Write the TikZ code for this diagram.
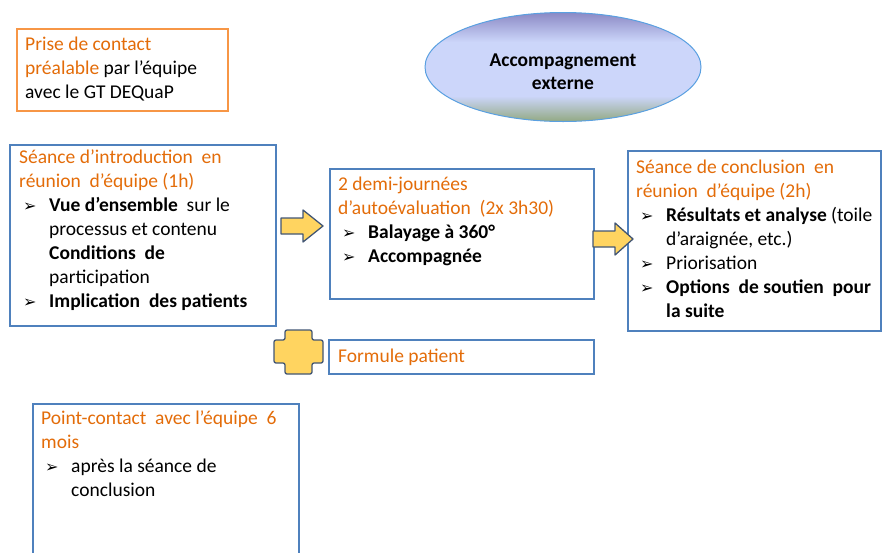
\documentclass[tikz,border=0pt]{standalone}
\usepackage{fontspec}
\setmainfont{Carlito}
\newfontfamily\symbolFont{DejaVu Sans}
\usetikzlibrary{positioning,shapes.geometric}
\definecolor{boxBlue}{RGB}{79,129,189}
\definecolor{boxOrange}{RGB}{247,150,70}
\definecolor{textOrange}{RGB}{227,108,9}
\definecolor{arrowFill}{RGB}{255,212,96}
\definecolor{arrowLine}{RGB}{66,86,116}
\definecolor{ellipseTop}{RGB}{138,136,196}
\definecolor{ellipseMid}{RGB}{204,214,250}
\definecolor{ellipseBottom}{RGB}{145,168,128}
\definecolor{ellipseLine}{RGB}{90,160,225}
\tikzstyle{sheet} = [x = 1pt, y = -1pt]
\tikzstyle{blueBox} = [draw=boxBlue, line width=1.5pt, inner sep=0pt, anchor=north west]
\tikzstyle{orangeBox} = [draw=boxOrange, line width=1.5pt, inner sep=0pt, anchor=north west]
\tikzstyle{boxText} = [anchor=north west, inner sep=0pt, align=left, font=\fontsize{19.5}{24}\selectfont]
\tikzstyle{blockArrow} = [fill=arrowFill, draw=arrowLine, line width=1.3pt, line join=round]
\newcommand{\pointer}{\hspace*{4pt}\makebox[26pt][l]{\symbolFont\fontsize{16}{16}\selectfont ➢}}
\newcommand{\hang}{\hspace*{30pt}}
\newcommand{\orange}[1]{\textcolor{textOrange}{#1}}

\begin{document}
\begin{tikzpicture}[sheet]
  \useasboundingbox (0,0) rectangle (883,552);

  \node[orangeBox, minimum width=211pt, minimum height=82pt] (contact) at (16,28) {};
  \node[boxText] (contactText) at (25,33.7) {\strut\orange{Prise de contact}\\
    \orange{préalable} par l’équipe\\
    avec le GT DEQuaP};

  \begin{scope}
    \clip (563,67) ellipse [x radius=138, y radius=54.5];
    \shade[top color=ellipseTop, bottom color=ellipseMid] (424,12) rectangle (702,42);
    \fill[ellipseMid] (424,41.5) rectangle (702,96.5);
    \shade[top color=ellipseMid, bottom color=ellipseBottom] (424,96) rectangle (702,122);
  \end{scope}
  \node[ellipse, draw=ellipseLine, line width=1pt, minimum width=276pt, minimum height=109pt] (support) at (563,67) {};
  \node[align=center, inner sep=0pt, font=\fontsize{19.5}{23}\selectfont\bfseries] (supportText)
    at ([shift={(0,5)}]support.center) {Accompagnement\\externe};

  \node[blueBox, minimum width=266pt, minimum height=181pt] (intro) at (9,144) {};
  \node[boxText] (introText) at (19,146.7) {\strut\orange{Séance d’introduction\ \ en}\\
    \orange{réunion\ \ d’équipe (1h)}\\
    \pointer\textbf{Vue d’ensemble}\ \ sur le\\
    \hang processus et contenu\\
    \hang\textbf{Conditions\ \ de}\\
    \hang participation\\
    \pointer\textbf{Implication\ \ des patients}};

  \node[blueBox, minimum width=264pt, minimum height=130pt] (selfEval) at (329,168) {};
  \node[boxText] (selfEvalText) at (338,173.7) {\strut\orange{2 demi-journées}\\
    \orange{d’autoévaluation\ \ (2x 3h30)}\\
    \pointer\textbf{Balayage à 360°}\\
    \pointer\textbf{Accompagnée}};

  \node[blueBox, minimum width=253pt, minimum height=180pt] (conclusion) at (627,150) {};
  \node[boxText] (conclusionText) at (636,156.7) {\strut\orange{Séance de conclusion\ \ en}\\
    \orange{réunion\ \ d’équipe (2h)}\\
    \pointer\textbf{Résultats et analyse} (toile\\
    \hang d’araignée, etc.)\\
    \pointer Priorisation\\
    \pointer\textbf{Options\ \ de soutien\ \ pour}\\
    \hang\textbf{la suite}};

  \node[blueBox, minimum width=265pt, minimum height=34pt] (patient) at (328,339) {};
  \node[boxText] (patientText) at (338,345.5) {\strut\orange{Formule patient}};

  \node[blueBox, minimum width=266pt, minimum height=165pt] (followUp) at (32,403) {};
  \node[boxText] (followUpText) at (41,407.7) {\strut\orange{Point-contact\ \ avec l’équipe\ \ 6}\\
    \orange{mois}\\
    \pointer après la séance de\\
    \hang conclusion};

  \draw[blockArrow] (281,218) -- (303,218) -- (303,210) -- (323,226) -- (303,242) -- (303,234) -- (281,234) -- cycle;
  \draw[blockArrow] (593,231) -- (615,231) -- (615,223) -- (633,239) -- (615,255) -- (615,247) -- (593,247) -- cycle;
  \draw[blockArrow, rounded corners=2pt] (285,330) -- (312,330) -- (312,340) -- (323,340) -- (323,363) -- (312,363)
    -- (312,374) -- (285,374) -- (285,363) -- (274,363) -- (274,340) -- (285,340) -- cycle;
\end{tikzpicture}
\end{document}
